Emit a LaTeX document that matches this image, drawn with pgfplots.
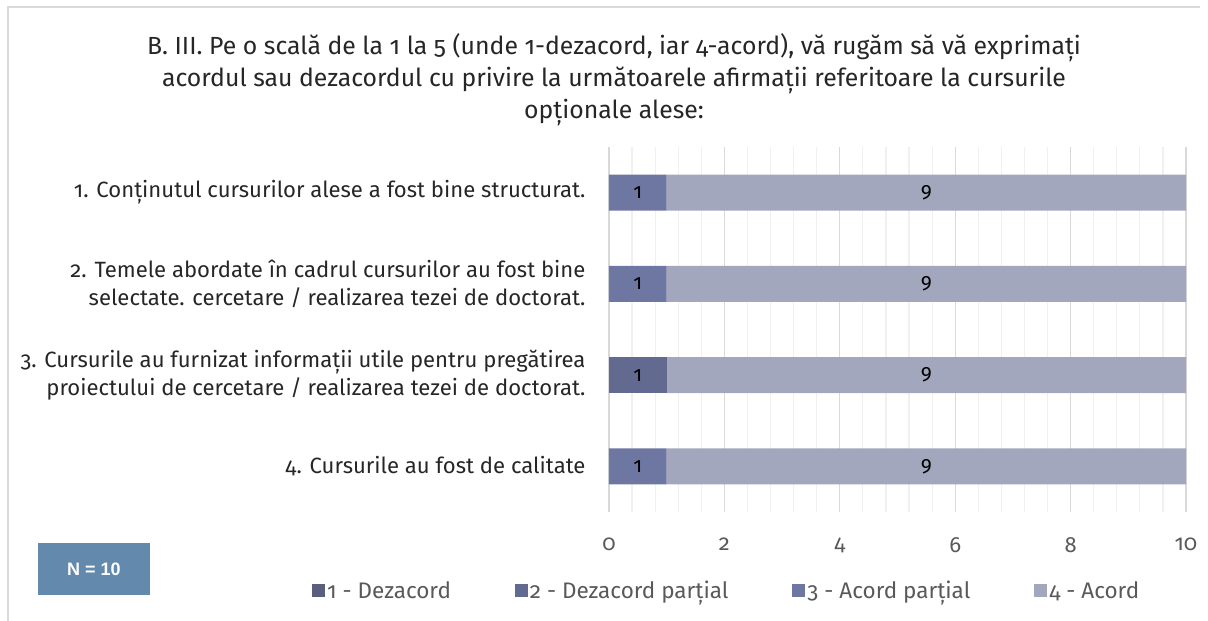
\documentclass[border=0pt]{standalone}
\usepackage{pgfplots}
\pgfplotsset{compat=1.18}
\usepackage{fontspec}
\setmainfont{Fira Sans}[Numbers=OldStyle]
\newfontfamily\nfont{Liberation Sans}
\definecolor{c1}{HTML}{5A5F80}
\definecolor{c2}{HTML}{626A8F}
\definecolor{c3}{HTML}{6E77A1}
\definecolor{c4}{HTML}{A3A7BE}
\definecolor{gridmaj}{HTML}{D9D9D9}
\definecolor{gridmin}{HTML}{F0F0F0}
\definecolor{txt}{HTML}{262626}
\definecolor{tickc}{HTML}{595959}
\definecolor{nbox}{HTML}{638AAD}
\begin{document}
\begin{tikzpicture}[x=1pt,y=1pt]
\useasboundingbox (0,0) rectangle (1208,621);
\draw[gridmaj, line width=1.5pt] (8,0) -- (8,614) -- (1200,614);
\node[align=center, font=\fontsize{24.8}{32}\selectfont, text=txt] at (614,541) {B. III. Pe o scală de la 1 la 5 (unde 1-dezacord, iar 4-acord), vă rugăm să vă exprimați\\acordul sau dezacordul cu privire la următoarele afirmații referitoare la cursurile\\opționale alese:};
\node[fill=nbox, minimum width=112pt, minimum height=52pt, text=white, font=\nfont\bfseries\fontsize{18}{20}\selectfont] at (94,52) {N = 10};
\begin{axis}[at={(609pt,109pt)}, anchor=south west, width=577pt, height=365pt, scale only axis,
  xbar stacked, bar width=36pt,
  xmin=0, xmax=10, ymin=-0.5, ymax=3.5, y dir=reverse,
  xtick={0,2,4,6,8,10}, minor x tick num=4,
  ytick={0,1,2,3},
  yticklabels={{1. Conținutul cursurilor alese a fost bine structurat.},
    {2. Temele abordate în cadrul cursurilor au fost bine\\selectate. cercetare / realizarea tezei de doctorat.},
    {3. Cursurile au furnizat informații utile pentru pregătirea\\proiectului de cercetare / realizarea tezei de doctorat.},
    {4. Cursurile au fost de calitate}},
  yticklabel style={align=right, font=\fontsize{22.1}{28}\selectfont, text=txt, xshift=-20pt},
  xticklabel style={font=\fontsize{22}{24}\selectfont, text=tickc, yshift=-22pt},
  /pgf/number format/assume math mode=true,
  major tick length=0pt, minor tick length=0pt,
  xmajorgrids, xminorgrids,
  major grid style={gridmaj, line width=1.2pt},
  minor grid style={gridmin, line width=1.2pt},
  axis x line*=bottom, x axis line style={draw=none},
  axis y line*=left,
  y axis line style={gridmaj, line width=2pt, -},
  nodes near coords={\pgfmathfloatifflags{\pgfplotspointmeta}{0}{}{\pgfmathprintnumber{\pgfplotspointmeta}}},
  nodes near coords align={center},
  every node near coord/.append style={font=\fontsize{21}{24}\selectfont, text=black},
  legend columns=4,
  legend style={at={(axis description cs:0.204,-0.216)}, anchor=center, draw=none, fill=none,
    font=\fontsize{22.5}{24}\selectfont, text=tickc,
    /tikz/every even column/.append style={column sep=62pt}},
  legend image code/.code={\fill[#1] (0pt,-6.5pt) rectangle (13pt,6.5pt);},
]
\addplot[fill=c1, draw=none] coordinates {(0,0) (0,1) (0,2) (0,3)};
\addplot[fill=c2, draw=none] coordinates {(0,0) (0,1) (1,2) (0,3)};
\addplot[fill=c3, draw=none] coordinates {(1,0) (1,1) (0,2) (1,3)};
\addplot[fill=c4, draw=none] coordinates {(9,0) (9,1) (9,2) (9,3)};
\legend{1 - Dezacord, 2 - Dezacord parțial, 3 - Acord parțial, 4 - Acord}
\end{axis}
\end{tikzpicture}
\end{document}
